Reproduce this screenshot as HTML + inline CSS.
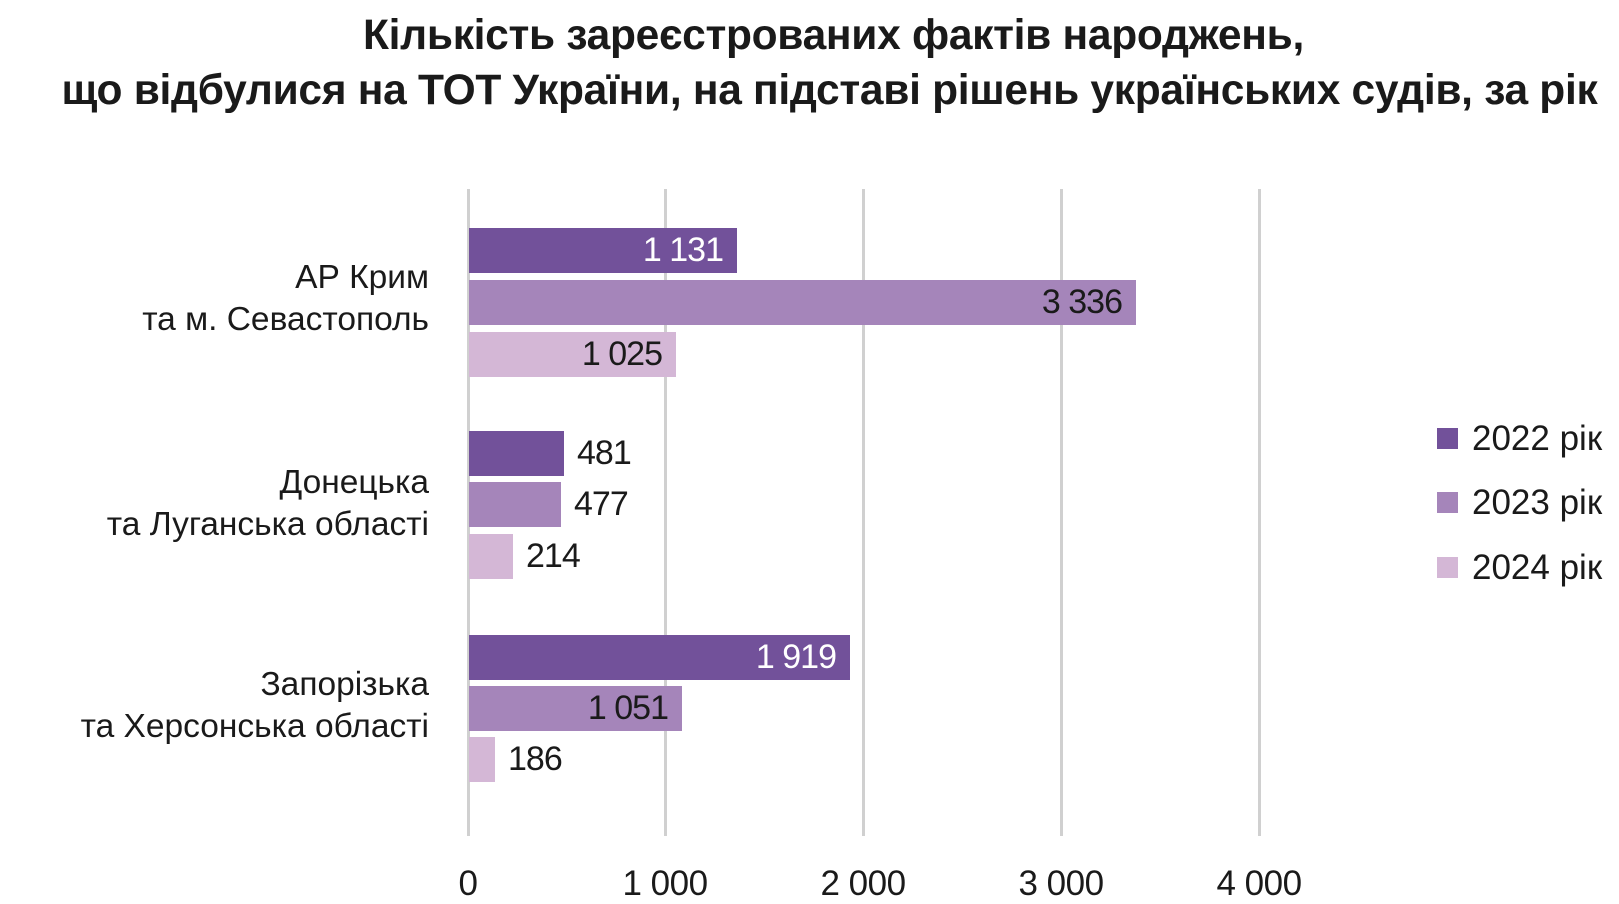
<!DOCTYPE html>
<html><head><meta charset="utf-8"><style>
body{margin:0;background:#fff;width:1619px;height:903px;overflow:hidden;font-family:"Liberation Sans",sans-serif;color:#1a1a1a}
.a{position:absolute;white-space:nowrap}
.t{font-weight:bold;font-size:42.5px;left:0;width:1619px;text-align:center;letter-spacing:-0.3px;line-height:50px}
.g{position:absolute;top:189px;height:647px;width:3px;background:#d0d0d0}
.b{position:absolute;height:45px}
.d{background:#72519a}.m{background:#a585ba}.l{background:#d4b7d6}
.v{position:absolute;font-size:34px;line-height:45px;letter-spacing:-1px;white-space:nowrap}
.c{position:absolute;right:1190px;text-align:right;font-size:33.5px;line-height:42px;white-space:nowrap}
.x{position:absolute;top:864px;font-size:35px;width:140px;text-align:center;letter-spacing:-0.5px}
.sq{position:absolute;left:1437px;width:21px;height:21px}
.lg{position:absolute;left:1472px;font-size:35px;line-height:21px;white-space:nowrap}
</style></head><body>
<div class="a t" style="top:11px;left:24px">Кількість зареєстрованих фактів народжень,</div>
<div class="a t" style="top:66px;left:20px">що відбулися на ТОТ України, на підставі рішень українських судів, за рік</div>

<div class="g" style="left:467px"></div>
<div class="g" style="left:664px"></div>
<div class="g" style="left:862px"></div>
<div class="g" style="left:1060px"></div>
<div class="g" style="left:1258px"></div>

<div class="b d" style="left:469px;top:228px;width:268px"></div>
<div class="b m" style="left:469px;top:280px;width:667px"></div>
<div class="b l" style="left:469px;top:332px;width:207px"></div>
<div class="b d" style="left:469px;top:431px;width:95px"></div>
<div class="b m" style="left:469px;top:482px;width:92px"></div>
<div class="b l" style="left:469px;top:534px;width:44px"></div>
<div class="b d" style="left:469px;top:635px;width:381px"></div>
<div class="b m" style="left:469px;top:686px;width:213px"></div>
<div class="b l" style="left:469px;top:737px;width:26px"></div>

<div class="v" style="right:896px;top:228px;color:#fff">1 131</div>
<div class="v" style="right:497px;top:280px">3 336</div>
<div class="v" style="right:957px;top:332px">1 025</div>
<div class="v" style="left:577px;top:431px">481</div>
<div class="v" style="left:574px;top:482px">477</div>
<div class="v" style="left:526px;top:534px">214</div>
<div class="v" style="right:783px;top:635px;color:#fff">1 919</div>
<div class="v" style="right:951px;top:686px">1 051</div>
<div class="v" style="left:508px;top:737px">186</div>

<div class="c" style="top:257px">АР Крим<br>та м. Севастополь</div>
<div class="c" style="top:462px">Донецька<br>та Луганська області</div>
<div class="c" style="top:664px">Запорізька<br>та Херсонська області</div>

<div class="x" style="left:398px">0</div>
<div class="x" style="left:595px">1 000</div>
<div class="x" style="left:793px">2 000</div>
<div class="x" style="left:991px">3 000</div>
<div class="x" style="left:1189px">4 000</div>

<div class="sq d" style="top:428px"></div><div class="lg" style="top:428px">2022 рік</div>
<div class="sq m" style="top:492px"></div><div class="lg" style="top:492px">2023 рік</div>
<div class="sq l" style="top:557px"></div><div class="lg" style="top:557px">2024 рік</div>
</body></html>
